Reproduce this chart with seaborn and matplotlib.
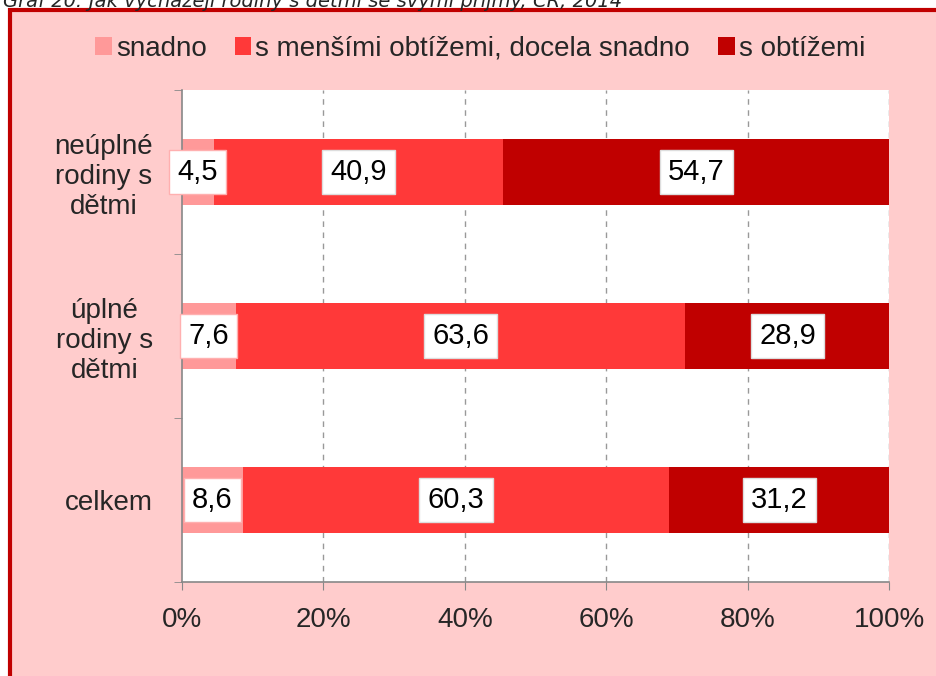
import matplotlib.pyplot as plt
import matplotlib.patches as mpatches
import numpy as np
import pandas as pd
import seaborn as sns

# Data
categories = ['neúplné\nrodiny s\ndětmi', 'úplné\nrodiny s\ndětmi', 'celkem']
series = ['snadno', 's menšími obtížemi, docela snadno', 's obtížemi']
snadno = [4.5, 7.6, 8.6]
mensi = [40.9, 63.6, 60.3]
obtize = [54.7, 28.9, 31.2]
colors = ['#FF9999', '#FF3939', '#C00000']
title = 'Graf 20: Jak vycházejí rodiny s dětmi se svými příjmy, ČR, 2014'

sns.set_style('white')
plt.rcParams['font.family'] = ['Liberation Sans', 'DejaVu Sans']

df = pd.DataFrame({'kat': categories, 'a': snadno, 'b': mensi, 'c': obtize})
df['cum1'] = df['a']
df['cum2'] = df['a'] + df['b']
df['cum3'] = df['cum2'] + df['c']

fig = plt.figure(figsize=(9.36, 6.76), dpi=100, facecolor='white')
# pink frame with red border
frame = mpatches.Rectangle((10 / 936, -0.02), 1.05, (676 - 10) / 676 + 0.02,
                           transform=fig.transFigure, facecolor='#FFCCCC',
                           edgecolor='#C00000', linewidth=3, zorder=-5)
fig.patches.append(frame)
fig.text(0.003, 1.0, title, fontsize=14, style='italic', va='center', ha='left',
         family=['DejaVu Sans'])

ax = fig.add_axes([182 / 936, 94 / 676, (889 - 182) / 936, (586 - 94) / 676])
ax.set_facecolor('white')

# stacked bars: draw cumulative totals back to front
for col, c in zip(['cum3', 'cum2', 'cum1'], colors[::-1]):
    sns.barplot(data=df, x=col, y='kat', orient='h', color=c, width=0.4,
                saturation=1, ax=ax, zorder=2, linewidth=0)

ax.set_xlim(0, 100)
ax.set_ylim(2.5, -0.5)
ax.set_xlabel('')
ax.set_ylabel('')

# value labels
for i in range(len(categories)):
    lefts = [0, df['cum1'][i], df['cum2'][i]]
    vals = [snadno[i], mensi[i], obtize[i]]
    for j, (l, v) in enumerate(zip(lefts, vals)):
        ec = '#FFB0B0' if j == 0 else '#DDDDDD'
        ax.text(l + v / 2, i, f'{v:.1f}'.replace('.', ','), ha='center', va='center',
                fontsize=21, color='black', zorder=5,
                bbox=dict(boxstyle='square,pad=0.28', facecolor='white', edgecolor=ec, linewidth=1))

ax.set_xticks(np.arange(0, 101, 20))
ax.set_xticklabels([f'{t}%' for t in range(0, 101, 20)], fontsize=20)
ax.set_yticks(range(len(categories)))
ax.set_yticklabels(categories, fontsize=20, multialignment='center')
ax.set_yticks([-0.5, 0.5, 1.5, 2.5], minor=True)
ax.tick_params(axis='y', which='major', length=0, pad=21)
ax.tick_params(axis='y', which='minor', length=6, color='#888888', direction='out', left=True)
ax.tick_params(axis='x', length=6, color='#888888', direction='out', bottom=True, pad=12)

ax.grid(False)
for t in range(20, 101, 20):
    ax.axvline(t, color='#999999', linestyle=(0, (4, 4)), linewidth=1, zorder=1)

for s in ['top', 'right']:
    ax.spines[s].set_visible(False)
for s in ['left', 'bottom']:
    ax.spines[s].set_color('#888888')
    ax.spines[s].set_linewidth(1.2)

handles = [mpatches.Patch(facecolor=c, edgecolor='none') for c in colors]
fig.legend(handles, series, loc='center', bbox_to_anchor=(0.513, 0.928), ncol=3,
           frameon=False, fontsize=20, handlelength=0.6, handleheight=0.6,
           handletextpad=0.15, columnspacing=1.0)

fig.savefig('out.png', dpi=100, facecolor=fig.get_facecolor())
